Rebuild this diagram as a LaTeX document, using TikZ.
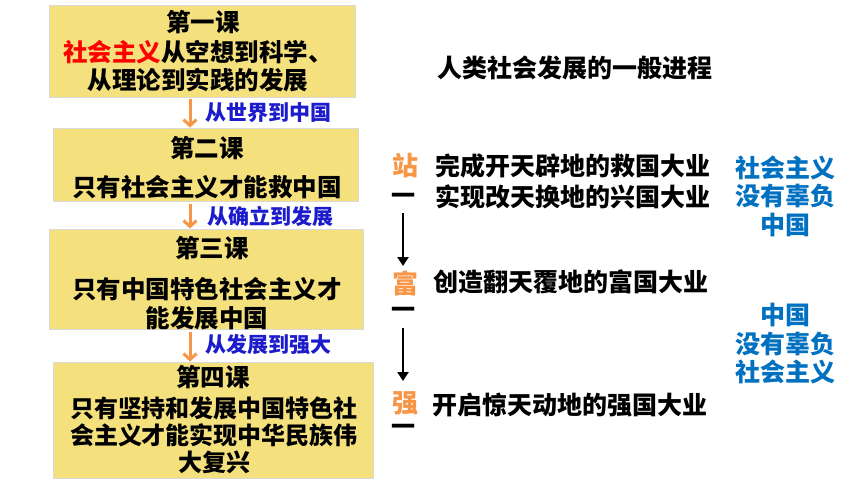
\documentclass[tikz,border=0pt]{standalone}
\usepackage{fontspec}
\setmainfont{Noto Sans CJK SC}[BoldFont={Noto Sans CJK SC Black}]
\usetikzlibrary{arrows.meta}
\definecolor{boxfill}{HTML}{F5E07E}
\definecolor{boxline}{HTML}{D9D9D9}
\definecolor{oarr}{HTML}{F79646}
\definecolor{lblue}{RGB}{28,28,205}
\definecolor{rblue}{HTML}{0070C0}
\definecolor{tred}{HTML}{FF0000}
\begin{document}
\begin{tikzpicture}[x=1pt,y=-1pt,
  lesson/.style={draw=boxline, line width=0.8pt, fill=boxfill, inner sep=0pt},
  ttl/.style={font=\fontsize{24.5}{28}\selectfont\bfseries, inner sep=0pt},
  body/.style={font=\fontsize{24.5}{28.5}\selectfont\bfseries, align=center, inner sep=0pt},
  body4/.style={font=\fontsize{24}{27}\selectfont\bfseries, align=center, inner sep=0pt},
  lbl/.style={font=\fontsize{21}{24}\selectfont\bfseries, text=lblue, anchor=west, inner sep=0pt},
  oarrow/.style={draw=oarr, line width=3pt, -{Straight Barb[length=6pt,width=13pt]}},
  rtext/.style={font=\fontsize{25}{30}\selectfont\bfseries, anchor=west, inner sep=0pt},
  stage/.style={font=\fontsize{26}{30}\selectfont\bfseries, text=oarr, inner sep=0pt},
  dashc/.style={font=\fontsize{24}{30}\selectfont\bfseries, inner sep=0pt},
  barrow/.style={draw=black, line width=2.2pt, -{Triangle[length=9pt,width=11pt]}},
  bluebox/.style={font=\fontsize{25}{28.5}\selectfont\bfseries, text=rblue, align=center, inner sep=0pt}
]
\useasboundingbox[fill=white] (0,0) rectangle (860,484);

% lesson boxes
\node[lesson, minimum width=306pt, minimum height=92pt] (b1) at (202,51) {};
\node[lesson, minimum width=305pt, minimum height=73pt] (b2) at (205.5,164.5) {};
\node[lesson, minimum width=314pt, minimum height=100pt] (b3) at (206,279) {};
\node[lesson, minimum width=320pt, minimum height=116pt] (b4) at (213,420) {};

% box texts
\node[ttl] (t1) at (203,22) {第一课};
\node[body] (c1) at (198,66) {\textcolor{tred}{社会主义}从空想到科学、\\从理论到实践的发展};
\node[ttl] (t2) at (207,148) {第二课};
\node[body] (c2) at (207,187) {只有社会主义才能救中国};
\node[ttl] (t3) at (212,248) {第三课};
\node[body] (c3) at (207,303.5) {只有中国特色社会主义才\\能发展中国};
\node[ttl] (t4) at (213,377) {第四课};
\node[body4] (c4) at (214,435) {只有坚持和发展中国特色社\\会主义才能实现中华民族伟\\大复兴};

% orange arrows and labels
\coordinate (ax) at (190,0);
\draw[oarrow] (b1.south -| ax) ++(0,2) -- (b2.north -| ax);
\draw[oarrow] (b2.south -| ax) ++(0,3) -- (b3.north -| ax);
\draw[oarrow] (b3.south -| ax) ++(0,3) -- (b4.north -| ax);
\node[lbl] (l1) at (205,113) {从世界到中国};
\node[lbl] (l2) at (207,216) {从确立到发展};
\node[lbl] (l3) at (205,345) {从发展到强大};

% right side
\node[rtext] (h) at (437,68) {人类社会发展的一般进程};

\node[stage] (s1) at (405,166) {站};
\node[dashc] (d1) at (403,199) {一};
\node[stage] (s2) at (405,283) {富};
\node[dashc] (d2) at (403,313) {一};
\node[stage] (s3) at (405,403) {强};
\node[dashc] (d3) at (403,430) {一};

\coordinate (a1s) at (403,213);
\coordinate (a1e) at (403,266);
\coordinate (a2s) at (403,328);
\coordinate (a2e) at (403,381);
\draw[barrow] (a1s) -- (a1e);
\draw[barrow] (a2s) -- (a2e);

\node[rtext] (r1) at (435,166) {完成开天辟地的救国大业};
\node[rtext] (r2) at (435,197) {实现改天换地的兴国大业};
\node[rtext] (r3) at (433,282) {创造翻天覆地的富国大业};
\node[rtext] (r4) at (432,405) {开启惊天动地的强国大业};

\node[bluebox] (g1) at (785,196) {社会主义\\没有辜负\\中国};
\node[bluebox] (g2) at (785,344) {中国\\没有辜负\\社会主义};
\end{tikzpicture}
\end{document}
